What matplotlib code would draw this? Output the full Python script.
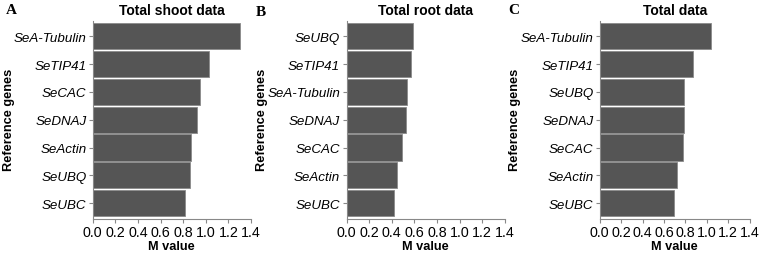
""" Reference gene stability (M value) bar charts """
import matplotlib.pyplot as plt

# Data (top bar first)
shoot_genes = ["SeA-Tubulin", "SeTIP41", "SeCAC", "SeDNAJ", "SeActin", "SeUBQ", "SeUBC"]
shoot_m = [1.30, 1.03, 0.95, 0.92, 0.865, 0.86, 0.82]

root_genes = ["SeUBQ", "SeTIP41", "SeA-Tubulin", "SeDNAJ", "SeCAC", "SeActin", "SeUBC"]
root_m = [0.59, 0.572, 0.538, 0.524, 0.49, 0.447, 0.417]

total_genes = ["SeA-Tubulin", "SeTIP41", "SeUBQ", "SeDNAJ", "SeCAC", "SeActin", "SeUBC"]
total_m = [1.04, 0.87, 0.79, 0.785, 0.775, 0.72, 0.69]

titles = ["Total shoot data", "Total root data", "Total data"]
letters = ["A", "B", "C"]
xticks = [0.0, 0.2, 0.4, 0.6, 0.8, 1.0, 1.2, 1.4]

plt.rcParams['font.family'] = ['Liberation Sans', 'DejaVu Sans']

W, H = 762, 255
fig = plt.figure(figsize=(W / 100, H / 100), dpi=100)

# axes boxes in pixels: left, width
lefts = [92.7, 346.5, 599.7]
widths = [158.3, 158.3, 150.0]
top_px, bottom_px = 22, 219.5
ylabel_x = [9, 262, 515]
letter_pos = [(11, 10), (261, 12), (514, 11)]

panels = [(shoot_genes, shoot_m), (root_genes, root_m), (total_genes, total_m)]

for i, (genes, vals) in enumerate(panels):
    ax = fig.add_axes([lefts[i] / W, 1 - bottom_px / H, widths[i] / W, (bottom_px - top_px) / H])
    n = len(genes)
    pos = list(range(n))[::-1]
    ax.barh(pos, vals, height=0.94, color='#555555', edgecolor='#8a8a8a', linewidth=0.6)
    ax.set_yticks(pos)
    ax.set_yticklabels(genes, fontstyle='italic', fontsize=9.6)
    ax.set_xticks(xticks)
    ax.set_xticklabels([f"{t:.1f}" for t in xticks], fontsize=10.3)
    ax.set_xlim(0, 1.4)
    ax.set_ylim(-0.55, n - 0.45)
    for s in ['top', 'right']:
        ax.spines[s].set_visible(False)
    for s in ['left', 'bottom']:
        ax.spines[s].set_color('#888888')
        ax.spines[s].set_linewidth(0.8)
    ax.tick_params(axis='both', length=3, width=0.8, color='#888888', pad=1.5)
    ax.set_xlabel("M value", fontsize=9.2, fontweight='bold', labelpad=1)
    ax.set_title(titles[i], fontsize=10, fontweight='bold', pad=5)
    fig.text(ylabel_x[i] / W, 1 - 120 / H, "Reference genes", rotation=90,
             fontsize=9.2, fontweight='bold', ha='center', va='center')
    lx, ly = letter_pos[i]
    fig.text(lx / W, 1 - ly / H, letters[i], family=['Liberation Serif', 'DejaVu Serif'],
             fontsize=11, fontweight='bold', ha='center', va='center')

fig.savefig("out.png", dpi=100)
